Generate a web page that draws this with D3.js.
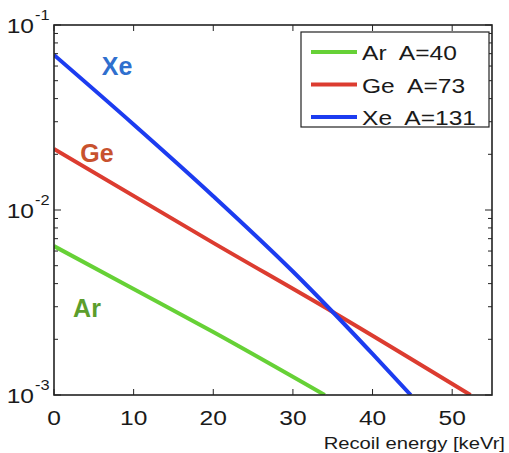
<!DOCTYPE html>
<html>
<head>
<meta charset="utf-8">
<script src="https://cdn.jsdelivr.net/npm/d3@7"></script>
<style>
  body { margin: 0; background: #fff; }
  text { font-family: "Liberation Sans", Arial, sans-serif; }
</style>
</head>
<body>
<svg id="chart"></svg>
<script>
// values (recoil energy keVr, rate)
const arE = [0, 10, 20, 34];
const arRate = [0.00638, 0.00374, 0.00219, 0.001];
const geE = [0, 20, 35, 52.3];
const geRate = [0.0214, 0.00664, 0.00281, 0.001];
const xeE = [0, 10, 20, 30, 35, 40, 44.8];
const xeRate = [0.0689, 0.029, 0.01188, 0.00465, 0.00281, 0.001667, 0.001];

const xTicks = [0, 10, 20, 30, 40, 50];
const yDecades = [-3, -2, -1];
const legendNames = ["Ar  A=40", "Ge  A=73", "Xe  A=131"];
const curveLabels = ["Ar", "Ge", "Xe"];

const width = 509, height = 453;
const margin = { top: 25, right: 17, bottom: 58, left: 54 };
const stretch = 1.17; // the picture's text is a bit wider than the font

const svg = d3.select("#chart").attr("width", width).attr("height", height);

const x = d3.scaleLinear().domain([0, 55]).range([margin.left, width - margin.right]);
const y = d3.scaleLog().domain([1e-3, 1e-1]).range([height - margin.bottom, margin.top]);

const series = [
  { name: legendNames[0], label: curveLabels[0], color: "#66d136", text: "#5c9e2c", e: arE, r: arRate, lx: 87, ly: 308 },
  { name: legendNames[1], label: curveLabels[1], color: "#dc3c30", text: "#c8522e", e: geE, r: geRate, lx: 97, ly: 153 },
  { name: legendNames[2], label: curveLabels[2], color: "#1c3cf0", text: "#2f6fce", e: xeE, r: xeRate, lx: 117, ly: 66 },
];

const x0 = x.range()[0], x1 = x.range()[1];
const y0 = y.range()[0], y1 = y.range()[1];

function label(g, px, py, str, size, anchor) {
  return g.append("text")
    .attr("transform", `translate(${px},${py}) scale(${stretch},1)`)
    .attr("text-anchor", anchor || "start")
    .attr("font-size", size)
    .attr("fill", "#1a1a1a")
    .style("white-space", "pre")
    .text(str);
}

// curves
svg.append("defs").append("clipPath").attr("id", "clip")
  .append("rect").attr("x", x0).attr("y", y1).attr("width", x1 - x0).attr("height", y0 - y1);

const line = d3.line().x(d => x(d[0])).y(d => y(d[1])).curve(d3.curveMonotoneX);
const plot = svg.append("g").attr("clip-path", "url(#clip)");
series.forEach(s => {
  plot.append("path")
    .datum(d3.zip(s.e, s.r))
    .attr("fill", "none")
    .attr("stroke", s.color)
    .attr("stroke-width", 4)
    .attr("d", line);
});

// inward ticks
const minor = [];
yDecades.slice(0, -1).forEach(p => {
  for (let k = 2; k <= 9; k++) minor.push(k * Math.pow(10, p));
});
const frame = svg.append("g").attr("stroke", "#222").attr("stroke-width", 1);
minor.forEach(v => {
  frame.append("line").attr("x1", x0).attr("x2", x0 + 4).attr("y1", y(v)).attr("y2", y(v));
  frame.append("line").attr("x1", x1).attr("x2", x1 - 4).attr("y1", y(v)).attr("y2", y(v));
});
yDecades.forEach(p => {
  const v = Math.pow(10, p);
  frame.append("line").attr("x1", x0).attr("x2", x0 + 7).attr("y1", y(v)).attr("y2", y(v));
  frame.append("line").attr("x1", x1).attr("x2", x1 - 7).attr("y1", y(v)).attr("y2", y(v));
});
xTicks.forEach(t => {
  frame.append("line").attr("x1", x(t)).attr("x2", x(t)).attr("y1", y0).attr("y2", y0 - 6);
  frame.append("line").attr("x1", x(t)).attr("x2", x(t)).attr("y1", y1).attr("y2", y1 + 6);
});

svg.append("rect")
  .attr("x", x0).attr("y", y1).attr("width", x1 - x0).attr("height", y0 - y1)
  .attr("fill", "none").attr("stroke", "#222").attr("stroke-width", 1.6);

// y tick labels 10^p
yDecades.forEach(p => {
  const yy = y(Math.pow(10, p));
  label(svg, 34, yy + 8, "10", 21, "end");
  label(svg, 35, yy - 5, String(p), 14);
});

// x tick labels
xTicks.forEach(t => label(svg, x(t), 425, String(t), 21, "middle"));

label(svg, 505, 449, "Recoil energy [keVr]", 17.3, "end");

// curve labels
series.forEach(s => {
  svg.append("text").attr("x", s.lx).attr("y", s.ly + 9).attr("text-anchor", "middle")
    .attr("font-size", 25).attr("font-weight", "bold").attr("fill", s.text).text(s.label);
});

// legend
const lg = svg.append("g");
lg.append("rect").attr("x", 301).attr("y", 32).attr("width", 188).attr("height", 95)
  .attr("fill", "#fff").attr("stroke", "#222").attr("stroke-width", 1.2);
series.forEach((s, i) => {
  const ly = 52 + i * 32.5;
  lg.append("line").attr("x1", 311).attr("x2", 357).attr("y1", ly).attr("y2", ly)
    .attr("stroke", s.color).attr("stroke-width", 4);
  label(lg, 362, ly + 8, s.name, 21);
});
</script>
</body>
</html>
